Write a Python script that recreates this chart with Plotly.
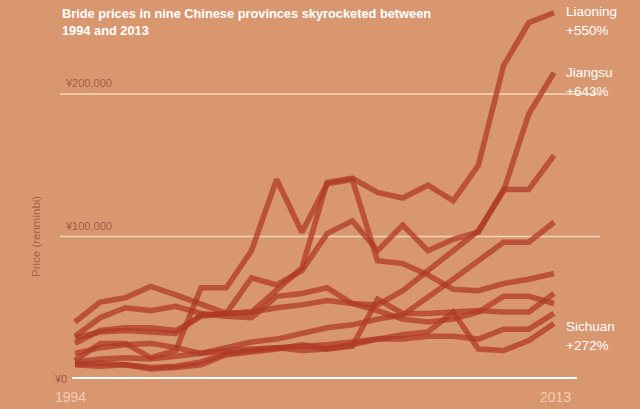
import plotly.graph_objects as go

# ---- data (thousand renminbi) ----
years = list(range(1994, 2014))
liaoning = [40, 54, 57, 65, 59, 52, 46, 47, 62, 78, 138, 141, 131, 127, 136, 125, 150, 220, 250, 257]
jiangsu = [29, 33, 34, 33, 32, 45, 46, 47, 50, 52, 55, 53, 52, 62, 76, 90, 104, 132, 186, 215]
prov_c = [25, 34, 36, 36, 34, 44, 46, 71, 66, 76, 102, 111, 90, 108, 90, 98, 103, 133, 133, 157]
prov_d = [13, 25, 25, 15, 20, 64, 64, 90, 140, 103, 137, 140, 83, 81, 73, 63, 62, 67, 70, 74]
prov_e = [12, 14, 15, 14, 16, 18, 22, 26, 28, 32, 36, 38, 42, 45, 57, 70, 83, 96, 96, 110]
prov_f = [30, 43, 50, 48, 51, 46, 44, 43, 58, 60, 64, 53, 48, 42, 40, 42, 47, 58, 58, 53]
prov_g = [18, 22, 24, 25, 22, 18, 20, 21, 22, 20, 21, 23, 56, 46, 46, 47, 48, 47, 47, 60]
prov_h = [10, 9, 10, 8, 9, 12, 18, 20, 22, 23, 24, 26, 28, 28, 30, 30, 28, 35, 35, 46]
sichuan = [10.5, 11, 10, 7, 8, 10, 17, 19, 21, 24, 21, 24, 28, 31, 33, 47, 21, 20, 27, 39]

series = [liaoning, jiangsu, prov_c, prov_d, prov_e, prov_f, prov_g, prov_h, sichuan]

grid_values = [100000, 200000]
grid_labels = ["¥100,000", "¥200,000"]
title_lines = ["Bride prices in nine Chinese provinces skyrocketed between", "1994 and 2013"]
end_labels = [("Liaoning", "+550%", 12), ("Jiangsu", "+643%", 72), ("Sichuan", "+272%", 326)]

# ---- layout geometry (pixels) ----
W_IMG, H_IMG = 640, 409
L, R_EDGE = 70, 559
T, B = 8, 379
PW, PH = R_EDGE - L, B - T
px_per_year = 479 / 19
x_lo = 1994 - (75 - L) / px_per_year
x_hi = 2013 + (R_EDGE - 554) / px_per_year
px_per_k = 1.425
y_hi = PH / px_per_k * 1000


def fx(p):
    return (p - L) / PW


def fy(p):
    return (B - p) / PH


BG = "#d9976f"
LINE = "rgba(176,56,36,0.74)"

fig = go.Figure()
for vals in series:
    fig.add_trace(go.Scatter(
        x=years, y=[v * 1000 for v in vals], mode="lines",
        line=dict(color=LINE, width=5.5), hoverinfo="skip", showlegend=False))

shapes = []
for gv in grid_values:
    shapes.append(dict(type="line", xref="paper", yref="y", x0=fx(60), x1=fx(600), y0=gv, y1=gv,
                       line=dict(color="rgba(255,235,215,0.75)", width=1.5), layer="below"))
shapes.append(dict(type="line", xref="paper", yref="y", x0=fx(72), x1=fx(577), y0=0, y1=0,
                   line=dict(color="white", width=4), layer="below"))

ann = []
for gv, gl in zip(grid_values, grid_labels):
    ann.append(dict(text=gl, xref="paper", yref="y", x=fx(63), y=gv, yshift=11,
                    xanchor="left", yanchor="middle", showarrow=False,
                    font=dict(family="Liberation Sans", size=11, color="rgba(150,82,62,0.85)")))
ann.append(dict(text="¥0", xref="paper", yref="y", x=fx(69), y=0, xanchor="right", yanchor="middle",
                showarrow=False, font=dict(family="Liberation Sans", size=11, color="rgba(150,82,62,0.9)")))
for yr, xp in [(1994, 70), (2013, 555)]:
    ann.append(dict(text=str(yr), xref="paper", yref="paper", x=fx(xp), y=fy(397), xanchor="center",
                    yanchor="middle", showarrow=False,
                    font=dict(family="Liberation Sans", size=14, color="rgba(255,222,200,0.75)")))
for i, tl in enumerate(title_lines):
    ann.append(dict(text="<b>" + tl + "</b>", xref="paper", yref="paper", x=fx(60), y=fy(14 + 17 * i),
                    xanchor="left", yanchor="middle", showarrow=False,
                    font=dict(family="Liberation Sans", size=12.8, color="white")))
for name, pct, yp in end_labels:
    for j, t in enumerate([name, pct]):
        ann.append(dict(text=t, xref="paper", yref="paper", x=fx(564), y=fy(yp + 19 * j),
                        xanchor="left", yanchor="middle", showarrow=False,
                        font=dict(family="Liberation Sans", size=13.5, color="white")))
ann.append(dict(text="Price (renminbi)", xref="paper", yref="paper", x=fx(36), y=fy(237), textangle=-90,
                xanchor="center", yanchor="middle", showarrow=False,
                font=dict(family="Liberation Sans", size=11.5, color="rgba(160,88,68,0.9)")))

fig.update_layout(
    width=W_IMG, height=H_IMG,
    margin=dict(l=L, r=W_IMG - R_EDGE, t=T, b=H_IMG - B, pad=0),
    paper_bgcolor=BG, plot_bgcolor=BG,
    xaxis=dict(range=[x_lo, x_hi], visible=False, fixedrange=True),
    yaxis=dict(range=[0, y_hi], visible=False, fixedrange=True),
    shapes=shapes, annotations=ann, showlegend=False,
)
fig.write_html("out.html", config={"displayModeBar": False, "staticPlot": True},
               post_script="document.body.style.margin='0';document.body.style.overflow='hidden';")
